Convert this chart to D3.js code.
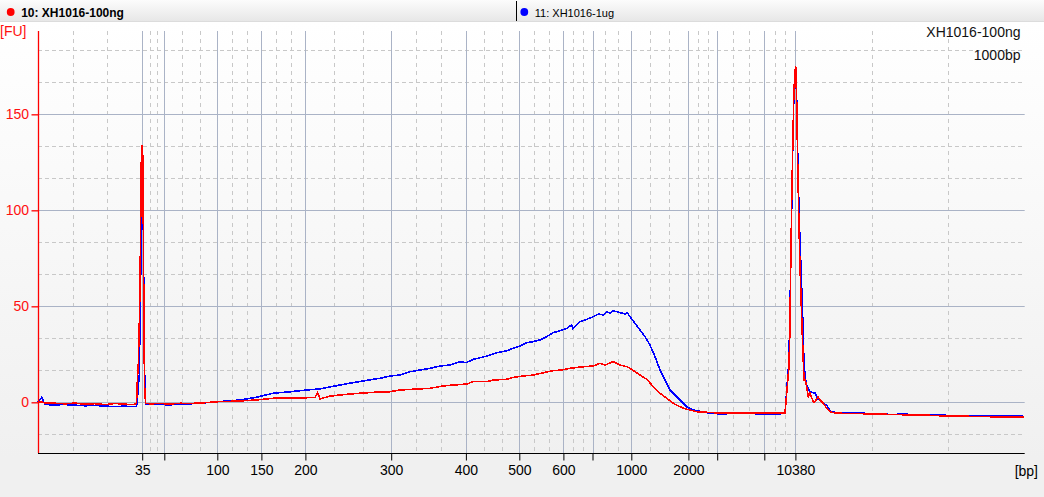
<!DOCTYPE html>
<html>
<head>
<meta charset="utf-8">
<script src="https://cdn.jsdelivr.net/npm/d3@7"></script>
<style>
  html, body { margin: 0; padding: 0; background: #f0f0f0; }
  svg { display: block; font-family: "Liberation Sans", Arial, sans-serif; }
</style>
</head>
<body>
<svg id="chart" width="1044" height="497"></svg>
<script>
// ---------------- data ----------------
const seriesNames = ["10: XH1016-100ng", "11: XH1016-1ug"];
const seriesColors = ["#ff0000", "#0000ff"];
const titleLines = ["XH1016-100ng", "1000bp"];

// ladder sizes (bp) and their migration times (s)
const ladderBp =   [35, 50, 100, 150, 200, 300, 400, 500, 600, 700, 1000, 2000, 3000, 7000, 10380];
const ladderTime = [40.42, 42.63, 47.93, 52.34, 56.74, 65.32, 72.79, 78.13, 82.54, 85.45, 89.33, 95.04, 97.92, 102.63, 105.74];
const labeledBp =  [35, 100, 150, 200, 300, 400, 500, 600, 1000, 2000, 10380];
const timeRange = [30, 128.67];
const fuRange = [-26.4, 193.4];
const fuTicks = [0, 50, 100, 150];

// sample 10 (red): time (s) and fluorescence (FU)
const redTime = [
  30.00, 30.37, 30.70, 31.70, 32.70, 33.70, 34.70, 35.70, 36.70, 37.70, 38.70, 39.50, 39.85,
  39.95, 40.03, 40.13, 40.20, 40.25, 40.33, 40.38, 40.43, 40.48, 40.53, 40.58, 40.63, 40.68, 40.77,
  41.20, 42.20, 43.20, 44.20, 45.20, 46.20, 47.87, 49.20, 50.20, 51.80, 53.50, 55.20, 56.87, 57.70,
  57.97, 58.20, 59.20, 60.20, 61.80, 63.53, 64.20, 65.20, 66.20, 67.53, 69.20, 70.53, 71.53, 72.87,
  73.53, 74.87, 75.53, 76.87, 77.53, 78.53, 79.53, 80.53, 81.53, 82.37, 83.20, 84.20, 85.53, 86.20,
  86.70, 87.53, 88.20, 88.87, 89.20, 89.70, 90.20, 90.87, 91.53, 92.20, 92.87, 93.53, 94.20, 94.87,
  95.87, 97.53, 99.53, 102.20, 104.20, 104.70,
  104.87, 105.07, 105.17, 105.27, 105.37, 105.47, 105.57, 105.67, 105.77, 105.87, 105.97, 106.10,
  106.20, 106.30, 106.40, 106.50, 106.60, 106.70, 106.80, 107.03, 107.20, 107.53, 107.70, 108.00,
  108.20, 108.53, 108.87, 109.20, 109.53, 110.20, 111.20, 112.20, 113.20, 114.20, 115.20, 116.70,
  118.50, 120.20, 121.87, 123.20, 125.20, 127.20, 128.60
];
const redFU = [
  0.2, 0.3, -0.3, -0.5, -0.8, -0.4, -1.0, -0.7, -1.2, -0.6, -1.0, -1.2, -0.5,
  13, 20, 41, 60, 86, 125, 134, 131, 128, 93, 55, 20, 5, -0.5,
  -0.8, -0.6, -0.9, -0.5, -0.6, -0.4, 0.3, 0.5, 0.7, 1.2, 2.1, 2.3, 2.4, 2.6,
  5.0, 1.8, 3.2, 3.8, 4.6, 5.2, 5.5, 5.5, 6.4, 6.8, 7.3, 8.5, 9.0, 9.5,
  10.8, 10.8, 11.6, 12.0, 13.0, 13.7, 14.2, 15.4, 16.5, 16.8, 17.7, 18.4, 18.9, 20.3,
  19.4, 21.2, 19.4, 18.6, 17.7, 16.0, 14.2, 12.0, 8.2, 4.7, 2.1, -0.5, -2.3, -3.6,
  -4.9, -5.4, -5.7, -5.7, -5.6, -5.7,
  4.7, 16.8, 32.4, 68.9, 105, 131, 157, 171, 175, 157, 124.5, 91.5,
  70.6, 55, 39.4, 25.5, 11.6, 11.6, 9.9, 2.9, 4.7, 0.3, 0.3, 2.9,
  1.2, -0.5, -3.1, -4.9, -5.4, -5.7, -5.8, -5.9, -6.0, -6.1, -6.3, -6.5,
  -6.6, -7.0, -7.1, -7.3, -7.5, -7.5, -7.5
];

// sample 11 (blue): time (s) and fluorescence (FU)
const blueTime = [
  30.00, 30.37, 30.70, 31.70, 32.70, 33.70, 34.70, 35.70, 36.70, 37.70, 38.70, 39.50, 39.85,
  39.95, 40.03, 40.13, 40.20, 40.25, 40.33, 40.38, 40.43, 40.48, 40.53, 40.58, 40.63, 40.68, 40.77,
  41.20, 42.20, 43.20, 44.20, 45.20, 46.20, 47.87, 49.20, 50.20, 51.80, 53.50, 55.20, 56.87, 58.20,
  59.20, 60.20, 61.80, 63.53, 64.20, 65.20, 66.20, 67.20, 68.20, 69.20, 70.20, 71.20, 72.20, 72.80,
  73.53, 74.20, 74.87, 75.87, 76.87, 77.53, 78.20, 78.87, 79.53, 80.20, 80.87, 81.53, 82.20, 82.87,
  83.37, 83.47, 84.20, 84.87, 85.53, 86.03, 86.53, 86.87, 87.20, 87.53, 88.20, 88.70, 88.93, 89.20,
  89.70, 90.20, 90.70, 91.20, 91.70, 92.20, 92.70, 93.20, 93.70, 94.20, 94.87, 95.53, 96.87, 98.20,
  99.87, 102.20, 104.20, 104.70,
  104.87, 105.07, 105.17, 105.27, 105.37, 105.47, 105.57, 105.67, 105.77, 105.87, 105.97, 106.10,
  106.20, 106.30, 106.40, 106.50, 106.60, 106.70, 106.80, 107.03, 107.20, 107.53, 107.70, 108.00,
  108.20, 108.53, 108.87, 109.20, 109.53, 110.20, 111.20, 112.20, 113.20, 114.20, 115.20, 116.70,
  118.50, 120.20, 121.87, 123.20, 125.20, 127.20, 128.60
];
const blueFU = [
  0.2, 2.6, -1.2, -1.3, -1.2, -1.5, -1.8, -1.6, -2.0, -2.2, -2.0, -2.3, -2.1,
  2, 8, 14, 41, 60, 84, 117, 114, 100, 90, 60, 44, 8, -1,
  -1.0, -1.2, -1.3, -1.0, -0.8, -0.5, 0.3, 0.8, 1.2, 2.6, 4.7, 5.5, 6.4, 7.0,
  8.0, 9.0, 10.5, 12.0, 12.5, 13.7, 14.2, 15.9, 16.8, 17.7, 18.9, 19.4, 21.2, 20.6,
  22.4, 23.2, 24.1, 25.8, 26.9, 28.1, 29.3, 31.1, 31.6, 32.5, 34.2, 36.3, 37.3, 38.5,
  40.3, 38.5, 42.0, 43.2, 44.6, 46.0, 45.5, 47.2, 46.4, 47.7, 46.7, 46.0, 46.7, 44.6,
  41.1, 37.7, 34.2, 29.8, 23.8, 16.8, 11.6, 6.4, 3.8, 1.2, -2.3, -4.0, -5.4, -6.1,
  -5.7, -6.0, -6.1, -5.5,
  6, 20, 40, 70, 100, 130, 155, 165, 172, 158, 130, 100,
  84, 70, 55, 40, 20, 15, 10, 7, 5.5, 5.0, 4.8, 1.6,
  1.2, -0.5, -1.5, -4.5, -5.0, -5.7, -5.6, -5.4, -6.1, -6.0, -6.3, -6.2,
  -6.5, -6.7, -6.9, -7.0, -7.1, -7.2, -7.3
];

// ---------------- drawing ----------------
const W = 1044, H = 497;
const svg = d3.select("#chart");
const defs = svg.append("defs");

const gBody = defs.append("linearGradient").attr("id", "bodyGrad")
  .attr("x1", 0).attr("y1", 0).attr("x2", 0).attr("y2", 1);
gBody.append("stop").attr("offset", "0%").attr("stop-color", "#ffffff");
gBody.append("stop").attr("offset", "92%").attr("stop-color", "#f0f0f0");
gBody.append("stop").attr("offset", "100%").attr("stop-color", "#f0f0f0");

const gHead = defs.append("linearGradient").attr("id", "headGrad")
  .attr("x1", 0).attr("y1", 0).attr("x2", 0).attr("y2", 1);
gHead.append("stop").attr("offset", "0%").attr("stop-color", "#fcfcfc");
gHead.append("stop").attr("offset", "100%").attr("stop-color", "#e6e6e6");

svg.append("rect").attr("x", 0).attr("y", 22).attr("width", W).attr("height", H - 22)
  .attr("fill", "url(#bodyGrad)");
svg.append("rect").attr("x", 0).attr("y", 0).attr("width", W).attr("height", 22)
  .attr("fill", "url(#headGrad)");
svg.append("line").attr("x1", 0).attr("x2", W).attr("y1", 21.5).attr("y2", 21.5)
  .attr("stroke", "#dcdcdc");
svg.append("line").attr("x1", 516.5).attr("x2", 516.5).attr("y1", 1).attr("y2", 21)
  .attr("stroke", "#000").attr("stroke-width", 1);

// legend
const legendX = [10.7, 524.3];
const legendBold = [true, false];
seriesNames.forEach((name, i) => {
  svg.append("circle").attr("cx", legendX[i]).attr("cy", 12).attr("r", 3.9)
    .attr("fill", seriesColors[i]);
  svg.append("text").attr("x", legendX[i] + 10.5).attr("y", 16.5)
    .attr("font-size", i === 0 ? 12 : 11)
    .attr("font-weight", legendBold[i] ? "bold" : "normal")
    .attr("fill", "#000").text(name);
});

const pLeft = 38, pRight = 1024.7, pTop = 31, pBottom = 453;
const xTime = d3.scaleLinear().domain(timeRange).range([pLeft, pRight]);
const xBp = d3.scaleLinear().domain(ladderBp).range(ladderTime.map(xTime));
const y = d3.scaleLinear().domain(fuRange).range([pBottom, pTop]);

// grid
const grid = svg.append("g");
const bounds = [timeRange[0], ...ladderTime, timeRange[1]];
const dashedT = [];
for (let i = 0; i < bounds.length - 1; i++) {
  const a = bounds[i], b = bounds[i + 1];
  dashedT.push(a + (b - a) / 3, a + 2 * (b - a) / 3);
}
const dashedFU = [];
for (let k = -3; k <= 12; k++) {
  const v = k * 50 / 3;
  if (k % 3 !== 0 && v > fuRange[0] && v < fuRange[1]) dashedFU.push(v);
}
grid.selectAll(".vd").data(dashedT).join("line")
  .attr("x1", d => Math.round(xTime(d)) + 0.5).attr("x2", d => Math.round(xTime(d)) + 0.5)
  .attr("y1", pTop).attr("y2", pBottom)
  .attr("stroke", "#c8c8c8").attr("stroke-dasharray", "4,4");
grid.selectAll(".hd").data(dashedFU).join("line")
  .attr("x1", pLeft).attr("x2", pRight)
  .attr("y1", d => Math.round(y(d)) + 0.5).attr("y2", d => Math.round(y(d)) + 0.5)
  .attr("stroke", "#c8c8c8").attr("stroke-dasharray", "4,3");
grid.selectAll(".vs").data(ladderBp).join("line")
  .attr("x1", d => Math.round(xBp(d)) + 0.5).attr("x2", d => Math.round(xBp(d)) + 0.5)
  .attr("y1", pTop).attr("y2", pBottom)
  .attr("stroke", "#aab3c6");
grid.selectAll(".hs").data(fuTicks).join("line")
  .attr("x1", pLeft).attr("x2", pRight)
  .attr("y1", d => Math.round(y(d)) + 0.5).attr("y2", d => Math.round(y(d)) + 0.5)
  .attr("stroke", "#aab3c6");

// traces
const traces = [
  { t: blueTime, v: blueFU, c: seriesColors[1] },
  { t: redTime, v: redFU, c: seriesColors[0] }
];
traces.forEach(s => {
  const line = d3.line().x((d, i) => xTime(s.t[i])).y(d => y(d));
  svg.append("path").datum(s.v).attr("d", line)
    .attr("fill", "none").attr("stroke", s.c).attr("stroke-width", 1.6)
    .attr("shape-rendering", "crispEdges");
});

// axes
const xAxis = d3.axisBottom(xBp).tickValues(ladderBp)
  .tickFormat(d => labeledBp.includes(d) ? d : "")
  .tickSize(7).tickPadding(5).tickSizeOuter(0);
const gx = svg.append("g").attr("transform", `translate(0,${pBottom + 0.5})`).call(xAxis);
gx.select(".domain").attr("d", `M${pLeft},0H${pRight}`).attr("stroke", "#000");
gx.selectAll(".tick line").attr("stroke", "#000");
gx.selectAll(".tick text").attr("font-size", 14).attr("fill", "#000")
  .attr("font-family", "Liberation Sans, Arial, sans-serif");

const yAxis = d3.axisLeft(y).tickValues(fuTicks).tickSize(7).tickPadding(2.5).tickSizeOuter(0);
const gy = svg.append("g").attr("transform", `translate(${pLeft + 0.5},0)`).call(yAxis);
gy.select(".domain").attr("d", `M0,${pTop}V${pBottom}`).attr("stroke", "#ff0000").attr("stroke-width", 1.3);
gy.selectAll(".tick line").attr("stroke", "#ff0000").attr("stroke-width", 1.3);
gy.selectAll(".tick text").attr("font-size", 14).attr("fill", "#ff1010")
  .attr("font-family", "Liberation Sans, Arial, sans-serif");

svg.append("text").attr("x", 0).attr("y", 36).attr("font-size", 14)
  .attr("fill", "#ff1010").text("[FU]");
svg.append("text").attr("x", 1038).attr("y", 476).attr("font-size", 14)
  .attr("text-anchor", "end").attr("fill", "#000").text("[bp]");

titleLines.forEach((t, i) => {
  svg.append("text").attr("x", 1020.5).attr("y", 37 + i * 22.5).attr("font-size", 14)
    .attr("text-anchor", "end").attr("fill", "#111").text(t);
});
</script>
</body>
</html>
